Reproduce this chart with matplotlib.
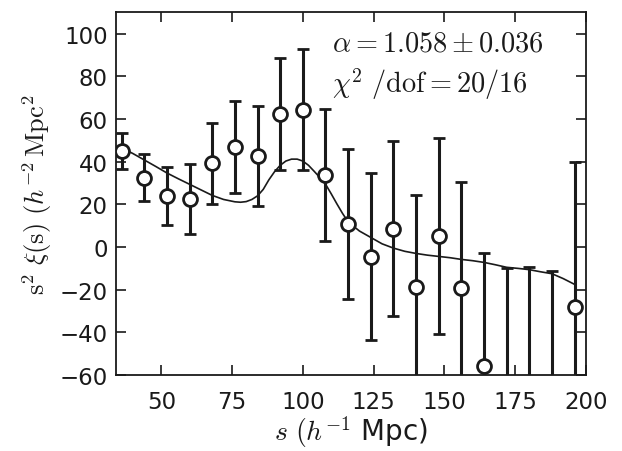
import matplotlib
matplotlib.use("Agg")
import matplotlib.pyplot as plt

# measured points
s_data = [36, 44, 52, 60, 68, 76, 84, 92, 100, 108, 116, 124, 132, 140, 148, 156, 164, 172, 180, 188, 196]
xi_data = [45.0, 32.5, 24.0, 22.5, 39.2, 47.0, 42.8, 62.2, 64.4, 33.7, 10.8, -4.5, 8.6, -18.5, 5.2, -19.0, -55.7, -66.0, -69.4, -75.0, -28.1]
xi_err = [8.5, 11.0, 13.5, 16.4, 19.0, 21.5, 23.5, 26.2, 28.5, 31.0, 35.0, 39.0, 41.0, 43.0, 46.0, 49.6, 53.0, 56.0, 60.0, 64.0, 68.0]

# best-fit model curve
s_model = [36, 40, 44, 48, 52, 56, 60, 64, 68, 72, 76, 78, 80, 82, 84, 86, 88, 90, 92, 94, 96, 98, 100,
           102, 104, 106, 108, 110, 112, 114, 116, 120, 124, 128, 132, 136, 140, 144, 148, 152, 156,
           160, 164, 168, 172, 176, 180, 184, 188, 192, 196]
xi_model = [46.5, 43.8, 40.8, 37.8, 34.7, 32.0, 29.4, 26.8, 24.2, 22.3, 21.2, 21.0, 21.3, 22.3, 24.0, 27.0,
            31.5, 35.3, 38.3, 40.3, 41.2, 41.2, 40.3, 38.3, 35.5, 32.6, 29.5, 25.0, 20.3, 15.8, 11.8,
            7.5, 4.5, 1.5, -0.5, -2.0, -3.0, -3.8, -4.4, -5.0, -5.8, -6.4, -7.2, -8.3, -9.5, -10.0,
            -10.6, -11.6, -12.5, -14.8, -17.5]

plt.rcParams['mathtext.fontset'] = 'cm'
plt.rcParams['font.family'] = 'DejaVu Sans'

ink = '#1a1a1a'

fig = plt.figure(figsize=(6.22, 4.52), dpi=100)
ax = fig.add_axes([0.1865, 0.168, 0.7555, 0.8025])

ax.plot(s_model, xi_model, color=ink, lw=1.2, zorder=2)
ax.errorbar(s_data, xi_data, yerr=xi_err, fmt='o', color=ink, ecolor=ink, elinewidth=2.2,
            capsize=4, capthick=2.2, mfc='white', mec=ink, mew=2.0, ms=10, zorder=3)

ax.set_xlim(34, 200)
ax.set_ylim(-60, 110)
ax.set_xticks([50, 75, 100, 125, 150, 175, 200])
ax.set_yticks([-60, -40, -20, 0, 20, 40, 60, 80, 100])
ax.tick_params(direction='in', length=7, width=1.2, top=True, right=True,
               labelsize=16.5, colors=ink)
ax.tick_params(axis='x', pad=11)
ax.tick_params(axis='y', pad=6)
for sp in ax.spines.values():
    sp.set_linewidth(1.3)
    sp.set_color(ink)

ax.set_xlabel(r'$s\ (h^{-1}$ Mpc)', fontsize=20, color=ink, labelpad=0)
ax.set_ylabel(r'$\mathrm{s}^2\ \xi(\mathrm{s})\ (h^{-2}\,\mathrm{Mpc}^2$', fontsize=19, color=ink, labelpad=4)

ax.text(0.46, 0.955, r'$\alpha = 1.058 \pm 0.036$', transform=ax.transAxes,
        fontsize=20.4, color=ink, va='top', ha='left')
ax.text(0.46, 0.855, r'$\chi^2\ /\mathrm{dof} = 20/16$', transform=ax.transAxes,
        fontsize=20.4, color=ink, va='top', ha='left')

fig.savefig('out.png', dpi=100)
